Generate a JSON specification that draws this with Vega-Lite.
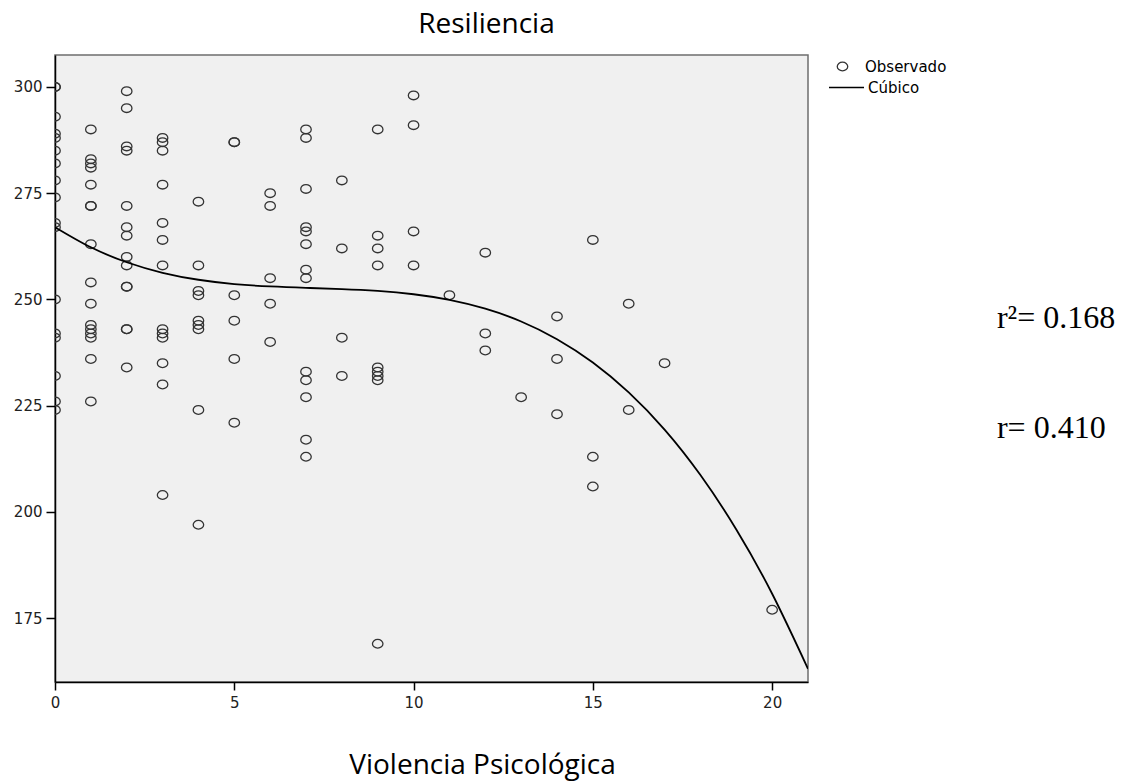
{
  "$schema": "https://vega.github.io/schema/vega-lite/v6.json",
  "width": 753,
  "height": 627,
  "autosize": {"type": "none"},
  "padding": {"left": 55, "top": 55, "right": 318, "bottom": 101},
  "background": "white",
  "title": {"text": "Resiliencia", "font": "Open Sans", "fontSize": 28, "fontWeight": "normal", "color": "#000000", "anchor": "middle", "dx": 55, "dy": 28, "baseline": "alphabetic", "offset": 22, "frame": "group"},
  "config": {
    "view": {"fill": "#F0F0F0", "stroke": "#6E6E6E", "strokeWidth": 1.5}
  },
  "datasets": {
    "obs": [
      {"vp": 0, "res": 300, "serie": "Observado"}, {"vp": 0, "res": 300, "serie": "Observado"}, {"vp": 0, "res": 293, "serie": "Observado"}, {"vp": 0, "res": 289, "serie": "Observado"}, {"vp": 0, "res": 288, "serie": "Observado"}, {"vp": 0, "res": 285, "serie": "Observado"}, {"vp": 0, "res": 282, "serie": "Observado"}, {"vp": 0, "res": 278, "serie": "Observado"}, {"vp": 0, "res": 274, "serie": "Observado"}, {"vp": 0, "res": 268, "serie": "Observado"}, {"vp": 0, "res": 267, "serie": "Observado"}, {"vp": 0, "res": 250, "serie": "Observado"}, {"vp": 0, "res": 242, "serie": "Observado"}, {"vp": 0, "res": 241, "serie": "Observado"}, {"vp": 0, "res": 232, "serie": "Observado"}, {"vp": 0, "res": 226, "serie": "Observado"}, {"vp": 0, "res": 224, "serie": "Observado"},
      {"vp": 1, "res": 290, "serie": "Observado"}, {"vp": 1, "res": 283, "serie": "Observado"}, {"vp": 1, "res": 282, "serie": "Observado"}, {"vp": 1, "res": 281, "serie": "Observado"}, {"vp": 1, "res": 277, "serie": "Observado"}, {"vp": 1, "res": 272, "serie": "Observado"}, {"vp": 1, "res": 272, "serie": "Observado"}, {"vp": 1, "res": 263, "serie": "Observado"}, {"vp": 1, "res": 254, "serie": "Observado"}, {"vp": 1, "res": 249, "serie": "Observado"}, {"vp": 1, "res": 244, "serie": "Observado"}, {"vp": 1, "res": 243, "serie": "Observado"}, {"vp": 1, "res": 242, "serie": "Observado"}, {"vp": 1, "res": 241, "serie": "Observado"}, {"vp": 1, "res": 236, "serie": "Observado"}, {"vp": 1, "res": 226, "serie": "Observado"},
      {"vp": 2, "res": 299, "serie": "Observado"}, {"vp": 2, "res": 295, "serie": "Observado"}, {"vp": 2, "res": 286, "serie": "Observado"}, {"vp": 2, "res": 285, "serie": "Observado"}, {"vp": 2, "res": 272, "serie": "Observado"}, {"vp": 2, "res": 267, "serie": "Observado"}, {"vp": 2, "res": 265, "serie": "Observado"}, {"vp": 2, "res": 260, "serie": "Observado"}, {"vp": 2, "res": 258, "serie": "Observado"}, {"vp": 2, "res": 253, "serie": "Observado"}, {"vp": 2, "res": 253, "serie": "Observado"}, {"vp": 2, "res": 243, "serie": "Observado"}, {"vp": 2, "res": 243, "serie": "Observado"}, {"vp": 2, "res": 234, "serie": "Observado"},
      {"vp": 3, "res": 288, "serie": "Observado"}, {"vp": 3, "res": 287, "serie": "Observado"}, {"vp": 3, "res": 285, "serie": "Observado"}, {"vp": 3, "res": 277, "serie": "Observado"}, {"vp": 3, "res": 268, "serie": "Observado"}, {"vp": 3, "res": 264, "serie": "Observado"}, {"vp": 3, "res": 258, "serie": "Observado"}, {"vp": 3, "res": 243, "serie": "Observado"}, {"vp": 3, "res": 242, "serie": "Observado"}, {"vp": 3, "res": 241, "serie": "Observado"}, {"vp": 3, "res": 235, "serie": "Observado"}, {"vp": 3, "res": 230, "serie": "Observado"}, {"vp": 3, "res": 204, "serie": "Observado"},
      {"vp": 4, "res": 273, "serie": "Observado"}, {"vp": 4, "res": 258, "serie": "Observado"}, {"vp": 4, "res": 252, "serie": "Observado"}, {"vp": 4, "res": 251, "serie": "Observado"}, {"vp": 4, "res": 245, "serie": "Observado"}, {"vp": 4, "res": 244, "serie": "Observado"}, {"vp": 4, "res": 243, "serie": "Observado"}, {"vp": 4, "res": 224, "serie": "Observado"}, {"vp": 4, "res": 197, "serie": "Observado"},
      {"vp": 5, "res": 287, "serie": "Observado"}, {"vp": 5, "res": 287, "serie": "Observado"}, {"vp": 5, "res": 251, "serie": "Observado"}, {"vp": 5, "res": 245, "serie": "Observado"}, {"vp": 5, "res": 236, "serie": "Observado"}, {"vp": 5, "res": 221, "serie": "Observado"},
      {"vp": 6, "res": 275, "serie": "Observado"}, {"vp": 6, "res": 272, "serie": "Observado"}, {"vp": 6, "res": 255, "serie": "Observado"}, {"vp": 6, "res": 249, "serie": "Observado"}, {"vp": 6, "res": 240, "serie": "Observado"},
      {"vp": 7, "res": 290, "serie": "Observado"}, {"vp": 7, "res": 288, "serie": "Observado"}, {"vp": 7, "res": 276, "serie": "Observado"}, {"vp": 7, "res": 267, "serie": "Observado"}, {"vp": 7, "res": 266, "serie": "Observado"}, {"vp": 7, "res": 263, "serie": "Observado"}, {"vp": 7, "res": 257, "serie": "Observado"}, {"vp": 7, "res": 255, "serie": "Observado"}, {"vp": 7, "res": 233, "serie": "Observado"}, {"vp": 7, "res": 231, "serie": "Observado"}, {"vp": 7, "res": 227, "serie": "Observado"}, {"vp": 7, "res": 217, "serie": "Observado"}, {"vp": 7, "res": 213, "serie": "Observado"},
      {"vp": 8, "res": 278, "serie": "Observado"}, {"vp": 8, "res": 262, "serie": "Observado"}, {"vp": 8, "res": 241, "serie": "Observado"}, {"vp": 8, "res": 232, "serie": "Observado"},
      {"vp": 9, "res": 290, "serie": "Observado"}, {"vp": 9, "res": 265, "serie": "Observado"}, {"vp": 9, "res": 262, "serie": "Observado"}, {"vp": 9, "res": 258, "serie": "Observado"}, {"vp": 9, "res": 234, "serie": "Observado"}, {"vp": 9, "res": 233, "serie": "Observado"}, {"vp": 9, "res": 232, "serie": "Observado"}, {"vp": 9, "res": 231, "serie": "Observado"}, {"vp": 9, "res": 169, "serie": "Observado"},
      {"vp": 10, "res": 298, "serie": "Observado"}, {"vp": 10, "res": 291, "serie": "Observado"}, {"vp": 10, "res": 266, "serie": "Observado"}, {"vp": 10, "res": 258, "serie": "Observado"},
      {"vp": 11, "res": 251, "serie": "Observado"},
      {"vp": 12, "res": 261, "serie": "Observado"}, {"vp": 12, "res": 242, "serie": "Observado"}, {"vp": 12, "res": 238, "serie": "Observado"},
      {"vp": 13, "res": 227, "serie": "Observado"},
      {"vp": 14, "res": 246, "serie": "Observado"}, {"vp": 14, "res": 236, "serie": "Observado"}, {"vp": 14, "res": 223, "serie": "Observado"},
      {"vp": 15, "res": 264, "serie": "Observado"}, {"vp": 15, "res": 213, "serie": "Observado"}, {"vp": 15, "res": 206, "serie": "Observado"},
      {"vp": 16, "res": 249, "serie": "Observado"}, {"vp": 16, "res": 224, "serie": "Observado"},
      {"vp": 17, "res": 235, "serie": "Observado"},
      {"vp": 20, "res": 177, "serie": "Observado"}
    ],
    "fit": [
      {"vp": 0, "res": 267.0, "serie": "Cúbico"}, {"vp": 1, "res": 262.26, "serie": "Cúbico"}, {"vp": 2, "res": 258.75, "serie": "Cúbico"}, {"vp": 3, "res": 256.27, "serie": "Cúbico"}, {"vp": 4, "res": 254.63, "serie": "Cúbico"}, {"vp": 5, "res": 253.62, "serie": "Cúbico"}, {"vp": 6, "res": 253.05, "serie": "Cúbico"}, {"vp": 7, "res": 252.72, "serie": "Cúbico"}, {"vp": 8, "res": 252.44, "serie": "Cúbico"}, {"vp": 9, "res": 252.0, "serie": "Cúbico"}, {"vp": 10, "res": 251.22, "serie": "Cúbico"}, {"vp": 11, "res": 249.89, "serie": "Cúbico"}, {"vp": 12, "res": 247.81, "serie": "Cúbico"}, {"vp": 13, "res": 244.81, "serie": "Cúbico"}, {"vp": 14, "res": 240.65, "serie": "Cúbico"}, {"vp": 15, "res": 235.16, "serie": "Cúbico"}, {"vp": 16, "res": 228.13, "serie": "Cúbico"}, {"vp": 17, "res": 219.38, "serie": "Cúbico"}, {"vp": 18, "res": 208.69, "serie": "Cúbico"}, {"vp": 19, "res": 195.89, "serie": "Cúbico"}, {"vp": 20, "res": 180.76, "serie": "Cúbico"}, {"vp": 21, "res": 163.11, "serie": "Cúbico"}
    ]
  },
  "layer": [
    {
      "data": {"name": "obs"},
      "mark": {"type": "point", "filled": false, "stroke": "#333333", "strokeWidth": 1.3, "size": 110, "opacity": 1, "clip": true},
      "encoding": {
        "x": {"field": "vp", "type": "quantitative", "scale": {"domain": [0, 21], "nice": false, "zero": false},
          "axis": {"values": [0, 5, 10, 15, 20], "title": "Violencia Psicológica", "titleFont": "Open Sans", "titleFontSize": 28, "titleFontWeight": "normal", "titleColor": "#000000", "titleX": 427, "titleY": 91, "titleBaseline": "alphabetic", "titleAlign": "center", "domainColor": "#000000", "domainWidth": 1.5, "tickColor": "#000000", "tickWidth": 1.5, "tickSize": 8, "labelFont": "DejaVu Sans", "labelFontSize": 15, "labelColor": "#222222", "labelPadding": 5, "labelFlush": false, "grid": false}},
        "y": {"field": "res", "type": "quantitative", "scale": {"domain": [160, 307.5], "nice": false, "zero": false},
          "axis": {"values": [175, 200, 225, 250, 275, 300], "title": null, "domainColor": "#000000", "domainWidth": 1.5, "tickColor": "#000000", "tickWidth": 1.5, "tickSize": 9, "labelFont": "DejaVu Sans", "labelFontSize": 15, "labelColor": "#222222", "labelPadding": 4, "labelFlush": false, "grid": false}},
        "shape": {"field": "serie", "type": "nominal", "scale": {"domain": ["Observado"], "range": ["M -1,0 A 1,0.83 0 1,1 1,0 A 1,0.83 0 1,1 -1,0 Z"]},
          "legend": {"title": null, "orient": "none", "legendX": 780, "legendY": 4, "labelFont": "DejaVu Sans", "labelFontSize": 15, "labelColor": "#000000", "symbolStrokeColor": "#333333", "symbolFillColor": "transparent", "symbolStrokeWidth": 1.3, "symbolSize": 110, "labelOffset": 15}}
      }
    },
    {
      "data": {"name": "fit"},
      "mark": {"type": "line", "strokeWidth": 1.8, "interpolate": "natural", "clip": true},
      "encoding": {
        "x": {"field": "vp", "type": "quantitative"},
        "y": {"field": "res", "type": "quantitative"},
        "color": {"field": "serie", "type": "nominal", "scale": {"domain": ["Cúbico"], "range": ["#000000"]},
          "legend": {"title": null, "orient": "none", "legendX": 773, "legendY": 14, "symbolType": "stroke", "symbolSize": 1225, "symbolStrokeWidth": 1.6, "symbolStrokeColor": "#000000", "labelFont": "DejaVu Sans", "labelFontSize": 15, "labelColor": "#000000", "labelOffset": 3}}
      }
    },
    {
      "data": {"values": [{"t": "r²= 0.168"}]},
      "mark": {"type": "text", "font": "Liberation Serif", "fontSize": 32, "align": "left", "baseline": "alphabetic", "color": "#000000"},
      "encoding": {"text": {"field": "t", "type": "nominal"}, "x": {"datum": 26.27}, "y": {"datum": 243.3}}
    },
    {
      "data": {"values": [{"t": "r= 0.410"}]},
      "mark": {"type": "text", "font": "Liberation Serif", "fontSize": 32, "align": "left", "baseline": "alphabetic", "color": "#000000"},
      "encoding": {"text": {"field": "t", "type": "nominal"}, "x": {"datum": 26.27}, "y": {"datum": 217.4}}
    }
  ]
}
